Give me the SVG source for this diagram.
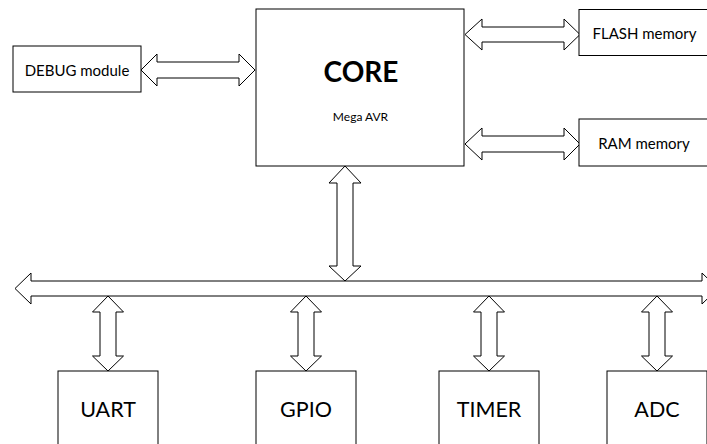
<svg xmlns="http://www.w3.org/2000/svg" width="707" height="444" viewBox="0 0 707 444">
<style>
.box{fill:#fff;stroke:#000;stroke-width:1}
.arr{fill:#fff;stroke:#000;stroke-width:1;stroke-linejoin:miter}
text{font-family:Lato,"Liberation Sans",sans-serif;fill:#000;text-anchor:middle}
.t14{font-size:15px}
.t20{font-size:21.5px}
</style>
<rect width="707" height="444" fill="#fff"/>
<g id="connectors">
<polygon class="arr" points="141,70 157,54 157,62 239,62 239,54 255,70 239,86 239,78 157,78 157,86"/>
<polygon class="arr" points="465,34.5 482,19 482,27 564,27 564,19 580,34.5 564,50 564,42 482,42 482,50"/>
<polygon class="arr" points="465,144 482,128 482,136 564,136 564,128 580,144 564,160 564,152 482,152 482,160"/>
<polygon class="arr" points="345,166 329,183 337,183 337,266 329,266 345,281 361,266 353,266 353,183 361,183"/>
<polygon class="arr" points="15,288.5 31,273 31,281 702,281 702,273 718,288.5 702,304 702,296 31,296 31,304"/>
<polygon class="arr" points="108,296 92.5,312 100,312 100,356 92.5,356 108,371 123.5,356 116,356 116,312 123.5,312"/>
<polygon class="arr" points="306,296 290.5,312 298,312 298,356 290.5,356 306,371 321.5,356 314,356 314,312 321.5,312"/>
<polygon class="arr" points="489,296 473.5,312 481,312 481,356 473.5,356 489,371 504.5,356 497,356 497,312 504.5,312"/>
<polygon class="arr" points="657,296 641.5,312 649,312 649,356 641.5,356 657,371 672.5,356 665,356 665,312 672.5,312"/>
</g>
<g id="debug">
<rect class="box" x="13" y="46" width="128" height="46"/>
<text class="t14" x="77" y="75.5">DEBUG module</text>
</g>
<g id="core">
<rect class="box" x="256" y="9" width="208" height="157"/>
<text x="361" y="82" style="font-size:28px;font-weight:bold">CORE</text>
<text x="360.5" y="121" style="font-size:12px">Mega AVR</text>
</g>
<g id="flash">
<rect class="box" x="579" y="9.5" width="130" height="46"/>
<text class="t14" x="644.5" y="39">FLASH memory</text>
</g>
<g id="ram">
<rect class="box" x="579" y="119" width="130" height="47"/>
<text class="t14" x="644" y="149">RAM memory</text>
</g>
<g id="uart">
<rect class="box" x="58" y="371" width="100" height="100"/>
<text class="t20" x="108" y="417">UART</text>
</g>
<g id="gpio">
<rect class="box" x="256" y="371" width="100" height="100"/>
<text class="t20" x="306" y="417">GPIO</text>
</g>
<g id="timer">
<rect class="box" x="439" y="371" width="100" height="100"/>
<text class="t20" x="489" y="417">TIMER</text>
</g>
<g id="adc">
<rect class="box" x="607" y="371" width="100" height="100"/>
<text class="t20" x="657" y="417">ADC</text>
</g>
</svg>
